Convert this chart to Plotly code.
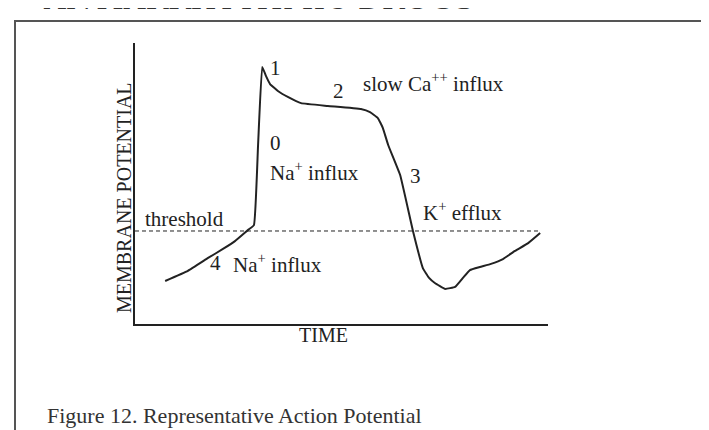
import plotly.graph_objects as go

# --- data (schematic units: time 0-100, membrane potential 0-100) ---
time = [7.3, 12.8, 17.7, 21.3, 24.2, 27.4, 28.8, 29.8, 30.8, 31.7, 32.7, 34.6, 37.0,
        40.2, 46.7, 54.7, 56.9, 58.8, 60.0, 61.3, 64.2, 67.3, 69.7, 71.2, 72.6, 75.1,
        77.5, 79.4, 81.1, 83.5, 86.2, 89.1, 92.0, 95.2, 98.1]
potential = [15.3, 18.9, 23.5, 26.7, 29.5, 33.5, 35.2, 63.7, 91.5, 88.3, 85.4, 82.9, 80.8,
             78.6, 77.6, 76.5, 75.4, 73.3, 69.8, 63.7, 53.0, 33.1, 19.9, 16.4, 14.6, 12.5,
             13.2, 16.4, 19.2, 20.3, 21.4, 23.1, 26.0, 28.8, 32.4]
threshold_time = [0, 97.6]
threshold_level = [33.1, 33.1]

label_texts = ["1", "2", "slow Ca<sup>++</sup> influx", "0", "Na<sup>+</sup> influx", "3",
               "K<sup>+</sup> efflux", "threshold", "4", "Na<sup>+</sup> influx"]

# label placements (layout)
label_x = [34.1, 49.2, 54.7, 32.2, 32.2, 67.8, 69.2, 1.9, 17.7, 23.2]
label_y = [91.1, 82.9, 86.1, 64.4, 54.4, 52.7, 40.2, 37.4, 21.7, 21.7]
label_anchor = ["center", "center", "left", "left", "left", "center", "left", "left", "left", "left"]

W, H = 709, 430
INK = "#222222"
SERIF = "Liberation Serif"

fig = go.Figure()
fig.add_trace(go.Scatter(x=threshold_time, y=threshold_level, mode="lines",
                         line=dict(color=INK, width=1, dash="4px,3px"),
                         hoverinfo="skip", showlegend=False))
fig.add_trace(go.Scatter(x=time, y=potential, mode="lines",
                         line=dict(color=INK, width=2, shape="spline", smoothing=0.3),
                         showlegend=False))

for t, x, y, a in zip(label_texts, label_x, label_y, label_anchor):
    fig.add_annotation(x=x, y=y, xref="x", yref="y", text=t, showarrow=False,
                       xanchor=a, yanchor="middle",
                       font=dict(family=SERIF, size=21, color=INK))

def px(x):
    return x / W

def py(y):
    return 1 - y / H

# axis titles
fig.add_annotation(x=px(103), y=py(190), xref="paper", yref="paper",
                   text="MEMBRANE POTENTIAL", textangle=-90, showarrow=False,
                   font=dict(family=SERIF, size=20, color=INK))
fig.add_annotation(x=px(315), y=py(340), xref="paper", yref="paper",
                   text="TIME", showarrow=False,
                   font=dict(family=SERIF, size=20, color=INK))
# caption
fig.add_annotation(x=px(37), y=py(407), xref="paper", yref="paper",
                   text="Figure 12. Representative Action Potential", showarrow=False,
                   xanchor="left", yanchor="middle",
                   font=dict(family=SERIF, size=22, color="#333333"))
# page header (cut off at top)
fig.add_annotation(x=px(33), y=py(10), xref="paper", yref="paper",
                   text="ANTIARRHYTHMIC DRUGS", showarrow=False,
                   xanchor="left", yanchor="bottom",
                   font=dict(family="DejaVu Serif", size=30, color="#333333"))

# frame box
fig.add_shape(type="rect", xref="paper", yref="paper",
              x0=px(7), x1=px(730), y0=py(13), y1=py(450),
              line=dict(color="#555555", width=2), layer="below")

fig.update_layout(
    width=W, height=H,
    margin=dict(l=0, r=0, t=0, b=0),
    paper_bgcolor="white", plot_bgcolor="white",
    xaxis=dict(domain=[px(127), px(540)], range=[0, 100], showgrid=False,
               zeroline=False, showticklabels=False, ticks="",
               showline=True, linecolor=INK, linewidth=1.5),
    yaxis=dict(domain=[py(316), py(35)], range=[0, 100], showgrid=False,
               zeroline=False, showticklabels=False, ticks="",
               showline=True, linecolor=INK, linewidth=1.5),
)

fig.write_html("out.html")
